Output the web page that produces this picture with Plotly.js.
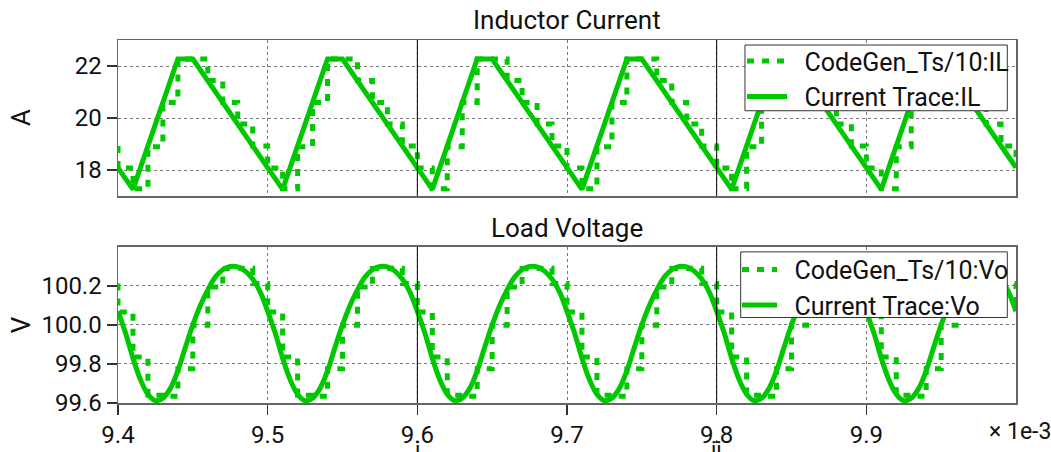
<!DOCTYPE html>
<html>
<head>
<meta charset="utf-8">
<script src="https://cdn.plot.ly/plotly-3.0.1.min.js"></script>
<style>
  html, body { margin: 0; padding: 0; background: #ffffff; }
  #chart { width: 1051px; height: 452px; }
</style>
</head>
<body>
<div id="chart"></div>
<script>
// ---- Data (time in units of 1e-3 s) ----
// Inductor current, continuous trace: corner points of the triangular ripple
const ilTime = [9.400, 9.410, 9.440, 9.450, 9.510, 9.540, 9.550, 9.610, 9.640, 9.650,
                9.710, 9.740, 9.750, 9.810, 9.840, 9.850, 9.910, 9.940, 9.950, 10.000];
const ilValue = [18.08, 17.26, 22.27, 22.27, 17.26, 22.27, 22.27, 17.26, 22.27, 22.27,
                 17.26, 22.27, 22.27, 17.26, 22.27, 22.27, 17.26, 22.27, 22.27, 18.10];

// Code-generated (sampled, held) traces: step instants
const stepTime = [9.39, 9.40, 9.41, 9.42, 9.43, 9.44, 9.45, 9.46, 9.47, 9.48, 9.49,
                  9.50, 9.51, 9.52, 9.53, 9.54, 9.55, 9.56, 9.57, 9.58, 9.59,
                  9.60, 9.61, 9.62, 9.63, 9.64, 9.65, 9.66, 9.67, 9.68, 9.69,
                  9.70, 9.71, 9.72, 9.73, 9.74, 9.75, 9.76, 9.77, 9.78, 9.79,
                  9.80, 9.81, 9.82, 9.83, 9.84, 9.85, 9.86, 9.87, 9.88, 9.89,
                  9.90, 9.91, 9.92, 9.93, 9.94, 9.95, 9.96, 9.97, 9.98, 9.99, 10.00];
const ilStep = [18.93,
                18.08, 17.28, 18.90, 20.60, 22.27, 22.27, 21.44, 20.60, 19.77, 18.93,
                18.08, 17.28, 18.90, 20.60, 22.27, 22.27, 21.44, 20.60, 19.77, 18.93,
                18.08, 17.28, 18.90, 20.60, 22.27, 22.27, 21.44, 20.60, 19.77, 18.93,
                18.08, 17.28, 18.90, 20.60, 22.27, 22.27, 21.44, 20.60, 19.77, 18.93,
                18.08, 17.28, 18.90, 20.60, 22.27, 22.27, 21.44, 20.60, 19.77, 18.93,
                18.08, 17.28, 18.90, 20.60, 22.27, 22.27, 21.44, 20.60, 19.77, 18.93,
                18.08];
const voStep = [100.212,
                100.067, 99.836, 99.640, 99.635, 99.776, 99.998, 100.195, 100.289, 100.290, 100.212,
                100.067, 99.836, 99.640, 99.635, 99.776, 99.998, 100.195, 100.289, 100.290, 100.212,
                100.067, 99.836, 99.640, 99.635, 99.776, 99.998, 100.195, 100.289, 100.290, 100.212,
                100.067, 99.836, 99.640, 99.635, 99.776, 99.998, 100.195, 100.289, 100.290, 100.212,
                100.067, 99.836, 99.640, 99.635, 99.776, 99.998, 100.195, 100.289, 100.290, 100.212,
                100.067, 99.836, 99.640, 99.635, 99.776, 99.998, 100.195, 100.289, 100.290, 100.212,
                100.067];

// Load voltage, continuous trace
const voTime = [9.400, 9.405, 9.410, 9.415, 9.420, 9.425, 9.430, 9.435, 9.440, 9.445,
                9.450, 9.455, 9.460, 9.465, 9.470, 9.475, 9.480, 9.485, 9.490, 9.495,
                9.500, 9.505, 9.510, 9.515, 9.520, 9.525, 9.530, 9.535, 9.540, 9.545,
                9.550, 9.555, 9.560, 9.565, 9.570, 9.575, 9.580, 9.585, 9.590, 9.595,
                9.600, 9.605, 9.610, 9.615, 9.620, 9.625, 9.630, 9.635, 9.640, 9.645,
                9.650, 9.655, 9.660, 9.665, 9.670, 9.675, 9.680, 9.685, 9.690, 9.695,
                9.700, 9.705, 9.710, 9.715, 9.720, 9.725, 9.730, 9.735, 9.740, 9.745,
                9.750, 9.755, 9.760, 9.765, 9.770, 9.775, 9.780, 9.785, 9.790, 9.795,
                9.800, 9.805, 9.810, 9.815, 9.820, 9.825, 9.830, 9.835, 9.840, 9.845,
                9.850, 9.855, 9.860, 9.865, 9.870, 9.875, 9.880, 9.885, 9.890, 9.895,
                9.900, 9.905, 9.910, 9.915, 9.920, 9.925, 9.930, 9.935, 9.940, 9.945,
                9.950, 9.955, 9.960, 9.965, 9.970, 9.975, 9.980, 9.985, 9.990, 9.995,
                10.000];
const voValue = [100.07, 99.96, 99.83, 99.72, 99.645, 99.612, 99.625, 99.675, 99.765, 99.885,
                 100.00, 100.10, 100.18, 100.245, 100.283, 100.30, 100.298, 100.276, 100.235, 100.17,
                 100.07, 99.96, 99.83, 99.72, 99.645, 99.612, 99.625, 99.675, 99.765, 99.885,
                 100.00, 100.10, 100.18, 100.245, 100.283, 100.30, 100.298, 100.276, 100.235, 100.17,
                 100.07, 99.96, 99.83, 99.72, 99.645, 99.612, 99.625, 99.675, 99.765, 99.885,
                 100.00, 100.10, 100.18, 100.245, 100.283, 100.30, 100.298, 100.276, 100.235, 100.17,
                 100.07, 99.96, 99.83, 99.72, 99.645, 99.612, 99.625, 99.675, 99.765, 99.885,
                 100.00, 100.10, 100.18, 100.245, 100.283, 100.30, 100.298, 100.276, 100.235, 100.17,
                 100.07, 99.96, 99.83, 99.72, 99.645, 99.612, 99.625, 99.675, 99.765, 99.885,
                 100.00, 100.10, 100.18, 100.245, 100.283, 100.30, 100.298, 100.276, 100.235, 100.17,
                 100.07, 99.96, 99.83, 99.72, 99.645, 99.612, 99.625, 99.675, 99.765, 99.885,
                 100.00, 100.10, 100.18, 100.245, 100.283, 100.30, 100.298, 100.276, 100.235, 100.17,
                 100.07];

const xTickVals = [9.4, 9.5, 9.6, 9.7, 9.8, 9.9];
const xTickText = ['9.4', '9.5', '9.6', '9.7', '9.8', '9.9'];
const ilTickVals = [18, 20, 22];
const ilTickText = ['18', '20', '22'];
const voTickVals = [99.6, 99.8, 100.0, 100.2];
const voTickText = ['99.6', '99.8', '100.0', '100.2'];
const cursorTimes = [9.6, 9.8];
const cursorLabels = ['i', 'ii'];
const seriesNames = ['CodeGen_Ts/10:IL', 'Current Trace:IL', 'CodeGen_Ts/10:Vo', 'Current Trace:Vo'];

// ---- Styling ----
const GREEN = '#00c800';
const FONT = 'Roboto, "Noto Sans", sans-serif';
const LW = 5;
const DASH = '7px,8px';
const PADNAME = '\u00a0\u00a0';   // gap between legend line sample and its label

const traces = [
  { x: stepTime, y: ilStep, xaxis: 'x', yaxis: 'y', name: PADNAME + seriesNames[0], legend: 'legend',
    mode: 'lines', line: { color: GREEN, width: LW, dash: DASH, shape: 'hv' } },
  { x: ilTime, y: ilValue, xaxis: 'x', yaxis: 'y', name: PADNAME + seriesNames[1], legend: 'legend',
    mode: 'lines', line: { color: GREEN, width: LW } },
  { x: stepTime, y: voStep, xaxis: 'x2', yaxis: 'y2', name: PADNAME + seriesNames[2], legend: 'legend2',
    mode: 'lines', line: { color: GREEN, width: LW, dash: DASH, shape: 'hv' } },
  { x: voTime, y: voValue, xaxis: 'x2', yaxis: 'y2', name: PADNAME + seriesNames[3], legend: 'legend2',
    mode: 'lines', line: { color: GREEN, width: LW, shape: 'spline', smoothing: 1 } }
];

const axisCommon = {
  showline: true, mirror: true, linecolor: '#666', linewidth: 1.5,
  showgrid: true, gridcolor: '#777', gridwidth: 1, griddash: 'dot',
  zeroline: false, tickcolor: '#333', tickwidth: 1.5, ticklen: 10,
  tickfont: { family: FONT, size: 24, color: '#111' }
};

const shapes = [];
cursorTimes.forEach(function (t) {
  shapes.push({ type: 'line', xref: 'x', yref: 'y domain', x0: t, x1: t, y0: 0, y1: 1,
                line: { color: '#000', width: 1 } });
  shapes.push({ type: 'line', xref: 'x2', yref: 'y2 domain', x0: t, x1: t, y0: 0, y1: 1,
                line: { color: '#000', width: 1 } });
});
// legend frames (white boxes over the traces, under the legend entries)
shapes.push({ type: 'rect', xref: 'paper', yref: 'paper', x0: 0.6982, x1: 0.9903, y0: 0.8051, y1: 0.9862,
              layer: 'above', fillcolor: '#ffffff', line: { color: '#333', width: 1 } });
shapes.push({ type: 'rect', xref: 'paper', yref: 'paper', x0: 0.6934, x1: 0.9903, y0: 0.2355, y1: 0.4163,
              layer: 'above', fillcolor: '#ffffff', line: { color: '#333', width: 1 } });

const annotations = [
  { text: 'Inductor Current', xref: 'paper', yref: 'paper', x: 0.5, y: 1.055,
    xanchor: 'center', yanchor: 'middle', showarrow: false, font: { family: FONT, size: 26, color: '#111' } },
  { text: 'Load Voltage', xref: 'paper', yref: 'paper', x: 0.5, y: 0.4817,
    xanchor: 'center', yanchor: 'middle', showarrow: false, font: { family: FONT, size: 26, color: '#111' } },
  { text: 'A', xref: 'paper', yref: 'paper', x: -0.1080, y: 0.785, textangle: -90,
    xanchor: 'center', yanchor: 'middle', showarrow: false, font: { family: FONT, size: 26, color: '#111' } },
  { text: 'V', xref: 'paper', yref: 'paper', x: -0.1080, y: 0.214, textangle: -90,
    xanchor: 'center', yanchor: 'middle', showarrow: false, font: { family: FONT, size: 26, color: '#111' } },
  { text: '× 1e-3', xref: 'paper', yref: 'paper', x: 1.041, y: -0.078,
    xanchor: 'right', yanchor: 'middle', showarrow: false, font: { family: FONT, size: 23, color: '#111' } }
];
cursorTimes.forEach(function (t, i) {
  annotations.push({ text: cursorLabels[i], xref: 'x2', yref: 'paper', x: t, y: -0.128,
    xanchor: 'center', yanchor: 'middle', showarrow: false, font: { family: FONT, size: 22, color: '#111' } });
});

const legendCommon = {
  xanchor: 'right', yanchor: 'top', bgcolor: 'rgba(0,0,0,0)', borderwidth: 0,
  font: { family: FONT, size: 25, color: '#111' }, tracegroupgap: 0
};

const layout = {
  width: 1051, height: 452,
  margin: { l: 118, r: 35, t: 40, b: 49, pad: 0 },
  paper_bgcolor: '#ffffff', plot_bgcolor: '#ffffff',
  font: { family: FONT, size: 24, color: '#111' },
  showlegend: true,
  xaxis: Object.assign({}, axisCommon, { domain: [0, 1], range: [9.4, 10.0], anchor: 'y',
    tickvals: xTickVals, ticktext: xTickText, showticklabels: false, ticks: '' }),
  yaxis: Object.assign({}, axisCommon, { domain: [0.57, 1], range: [17, 23], anchor: 'x',
    tickvals: ilTickVals, ticktext: ilTickText, ticks: 'outside' }),
  xaxis2: Object.assign({}, axisCommon, { domain: [0, 1], range: [9.4, 10.0], anchor: 'y2',
    tickvals: xTickVals, ticktext: xTickText, ticks: 'outside' }),
  yaxis2: Object.assign({}, axisCommon, { domain: [0, 0.43], range: [99.6, 100.4], anchor: 'x2',
    tickvals: voTickVals, ticktext: voTickText, ticks: 'outside' }),
  legend: Object.assign({}, legendCommon, { x: 0.9978, y: 1.0047, itemwidth: 40 }),
  legend2: Object.assign({}, legendCommon, { x: 0.9978, y: 0.4301, itemwidth: 35 }),
  shapes: shapes,
  annotations: annotations
};

Plotly.newPlot('chart', traces, layout, { staticPlot: true, displayModeBar: false });
</script>
</body>
</html>
